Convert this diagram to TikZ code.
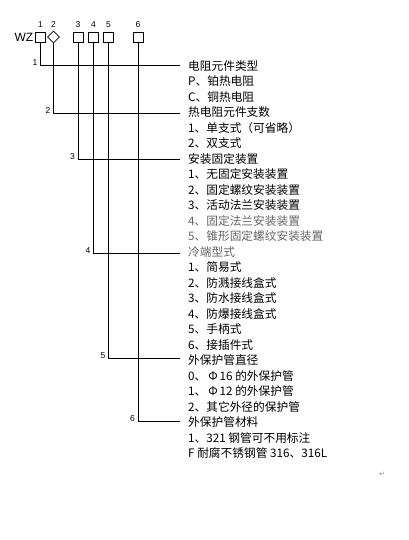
\documentclass[tikz,border=0pt]{standalone}
\usepackage{fontspec}
\setmainfont{Liberation Sans}
\newfontfamily\cjk{Noto Sans CJK SC}
\newfontfamily\djv{DejaVu Sans}
\usetikzlibrary{shapes.geometric}
\begin{document}
\begin{tikzpicture}[x=1pt,y=-1pt,
  wire/.style={draw=black,line width=0.8pt},
  sel/.style={draw=black,line width=0.8pt,minimum size=10pt,inner sep=0pt,fill=white},
  dia/.style={draw=black,line width=0.8pt,diamond,minimum size=12pt,inner sep=0pt,fill=white},
  toplab/.style={font=\fontsize{8.5pt}{9pt}\selectfont,inner sep=0pt},
  numlab/.style={font=\fontsize{8.5pt}{9pt}\selectfont,inner sep=0pt,anchor=east},
  row/.style={font=\cjk\fontsize{11.7pt}{14pt}\selectfont,inner sep=0pt,anchor=base west},
  faint/.style={text=black!60}
]
\useasboundingbox (0,0) rectangle (409,540);
% code header
\node[anchor=east,inner sep=0pt,font=\fontsize{12pt}{13pt}\selectfont] (wz) at (33.5,37.5) {WZ};
\node[sel] (b1) at (40.5,37) {};
\node[dia] (b2) at (53.5,37) {};
\node[sel] (b3) at (78,37) {};
\node[sel] (b4) at (93.5,37) {};
\node[sel] (b5) at (108.5,37) {};
\node[sel] (b6) at (138,37) {};
\foreach \i in {1,...,6} {\node[toplab] (t\i) at ([yshift=12pt]b\i.center) {\i};}
% text rows
\def\ry#1{66+15.48*#1+4.5}
\node[row] (r0) at (188,{\ry{0}}) {电阻元件类型};
\node[row] (r1) at (188,{\ry{1}}) {P、铂热电阻};
\node[row] (r2) at (188,{\ry{2}}) {C、铜热电阻};
\node[row] (r3) at (188,{\ry{3}}) {热电阻元件支数};
\node[row] (r4) at (188,{\ry{4}}) {1、单支式（可省略）};
\node[row] (r5) at (188,{\ry{5}}) {2、双支式};
\node[row] (r6) at (188,{\ry{6}}) {安装固定装置};
\node[row] (r7) at (188,{\ry{7}}) {1、无固定安装装置};
\node[row] (r8) at (188,{\ry{8}}) {2、固定螺纹安装装置};
\node[row] (r9) at (188,{\ry{9}}) {3、活动法兰安装装置};
\node[row,faint] (r10) at (188,{\ry{10}}) {4、固定法兰安装装置};
\node[row,faint] (r11) at (188,{\ry{11}}) {5、锥形固定螺纹安装装置};
\node[row,faint] (r12) at (188,{\ry{12}}) {冷端型式};
\node[row] (r13) at (188,{\ry{13}}) {1、简易式};
\node[row] (r14) at (188,{\ry{14}}) {2、防溅接线盒式};
\node[row] (r15) at (188,{\ry{15}}) {3、防水接线盒式};
\node[row] (r16) at (188,{\ry{16}}) {4、防爆接线盒式};
\node[row] (r17) at (188,{\ry{17}}) {5、手柄式};
\node[row] (r18) at (188,{\ry{18}}) {6、接插件式};
\node[row] (r19) at (188,{\ry{19}}) {外保护管直径};
\node[row] (r20) at (188,{\ry{20}}) {0、\,Φ\,16 的外保护管};
\node[row] (r21) at (188,{\ry{21}}) {1、\,Φ\,12 的外保护管};
\node[row] (r22) at (188,{\ry{22}}) {2、其它外径的保护管};
\node[row] (r23) at (188,{\ry{23}}) {外保护管材料};
\node[row] (r24) at (188,{\ry{24}}) {1、321 钢管可不用标注};
\node[row] (r25) at (188,{\ry{25}}) {F 耐腐不锈钢管 316、316L};
% corner coordinates and wires
\coordinate (c1) at (b1.center |- 0,65);
\coordinate (c2) at (b2.center |- 0,113);
\coordinate (c3) at (b3.center |- 0,159);
\coordinate (c4) at (b4.center |- 0,253);
\coordinate (c5) at (b5.center |- 0,358);
\coordinate (c6) at (b6.center |- 0,421);
\foreach \i in {1,...,6} {
  \coordinate (e\i) at (180,0 |- c\i);
  \draw[wire] (b\i.south) -- (c\i) -- (e\i);
  \node[numlab] (n\i) at ([xshift=-3pt,yshift=2.5pt]c\i) {\i};
}
% paragraph mark
\node[inner sep=0pt,text=black!45,font=\djv\fontsize{7pt}{8pt}\selectfont] (pm) at (382,474) {↵};
\end{tikzpicture}
\end{document}
